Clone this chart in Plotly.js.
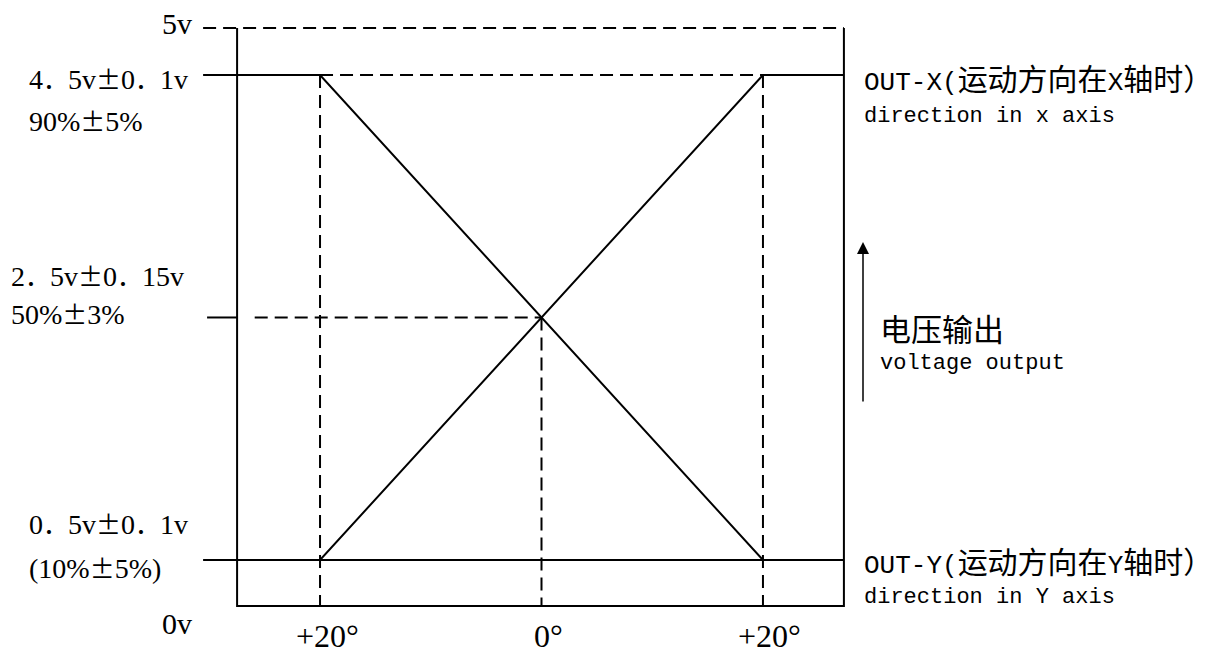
<!DOCTYPE html>
<html>
<head>
<meta charset="utf-8">
<script src="https://cdn.plot.ly/plotly-3.0.1.min.js"></script>
<style>
    html, body { margin: 0; padding: 0; background: #fff; }
    #chart { width: 1232px; height: 655px; }
</style>
</head>
<body>
<div id="chart"></div>
<script>
// 角度 (度) 與電壓準位 (示意圖)
const sweepAngles = [-20, 20];
const outXLevels = [0.5, 4.5];
const outYLevels = [4.5, 0.5];
const centerAngle = 0;
const centerLevel = 2.5;

const angleTicks = [-20, 0, 20];
const angleTickText = ["+20°", "0°", "+20°"];

const levelValues = [4.5, 2.5, 0.5];
const levelVoltText = ["4．5v±0．1v", "2．5v±0．15v", "0．5v±0．1v"];
const levelPctText = ["90%±5%", "50%±3%", "(10%±5%)"];

// 0v / 5v 兩條邊界在圖上的位置 (示意, 非等比例)
const railLevels = [0.121, 4.888];
const railText = ["0v", "5v"];

const seriesNames = ["OUT-X(运动方向在X轴时）", "OUT-Y(运动方向在Y轴时）"];
const seriesSubText = ["direction in x axis", "direction in Y axis"];
const outputText = "电压输出";
const outputSubText = "voltage output";

// 版面 (像素)
const plotL = 199, plotR = 850, plotT = 22, plotB = 612;
const W = 1232, H = 655;
const px = (x) => (x - plotL) / (plotR - plotL);
const py = (y) => (plotB - y) / (plotB - plotT);

// 框線與延伸線的角度位置
const xRange = [-30.93, 27.86];
const yRange = [0.071, 4.937];
const stubStart = -30.56;
const frameLeft = -27.49;
const frameRight = 27.31;
const guideStart = -25.9;
const tickStart = -30.2;

const black = "#000";
const serif = "Liberation Serif, Noto Sans CJK SC, serif";
const mono = "Liberation Mono, Noto Sans CJK SC, monospace";
const cjk = "Noto Sans CJK SC, sans-serif";

// 中文字 / ± 用 CJK 字型 (全形)
const wrapCjk = (s, size) =>
    s.replace(/([\u4e00-\u9fff\uff08-\uff09\uff0e±]+)/g,
        `<span style="font-family:Noto Sans CJK SC;font-size:${size}px">$1</span>`);

const [low, high] = [outXLevels[0], outXLevels[1]];
const [rail0, rail5] = railLevels;

const traces = [
    // OUT-X
    {
        x: [stubStart, sweepAngles[0], sweepAngles[1], frameRight],
        y: [outXLevels[0], outXLevels[0], outXLevels[1], outXLevels[1]],
        mode: "lines",
        line: { color: black, width: 2 },
    },
    // OUT-Y
    {
        x: [stubStart, sweepAngles[0], sweepAngles[1], frameRight],
        y: [outYLevels[0], outYLevels[0], outYLevels[1], outYLevels[1]],
        mode: "lines",
        line: { color: black, width: 2 },
    },
    // 低準位中段 + 框線 + 2.5v 刻度
    {
        x: [sweepAngles[0], sweepAngles[1], null,
            frameLeft, frameLeft, frameRight, frameRight, null,
            tickStart, frameLeft],
        y: [low, low, null,
            rail5, rail0, rail0, rail5, null,
            centerLevel, centerLevel],
        mode: "lines",
        line: { color: black, width: 2 },
    },
    // 虛線輔助線
    {
        x: [sweepAngles[0], sweepAngles[0], null,
            sweepAngles[1], sweepAngles[1], null,
            centerAngle, centerAngle, null,
            guideStart, centerAngle, null,
            sweepAngles[0], sweepAngles[1], null,
            stubStart, frameRight],
        y: [high, rail0, null,
            high, rail0, null,
            centerLevel, rail0, null,
            centerLevel, centerLevel, null,
            high, high, null,
            rail5, rail5],
        mode: "lines",
        line: { color: black, width: 2, dash: "13px,7px" },
    },
];

const annotations = [];

// 左側準位標籤
const levelRows = [
    { left: 27, y1: 78, y2: 120 },
    { left: 9, y1: 275, y2: 313 },
    { left: 27, y1: 523, y2: 567 },
];
levelValues.forEach((v, i) => {
    const r = levelRows[i];
    annotations.push({
        xref: "paper", yref: "paper", x: px(r.left), y: py(r.y1),
        xanchor: "left", yanchor: "middle", showarrow: false,
        text: wrapCjk(levelVoltText[i], 25), font: { family: serif, size: 28, color: black },
    });
    annotations.push({
        xref: "paper", yref: "paper", x: px(r.left), y: py(r.y2),
        xanchor: "left", yanchor: "middle", showarrow: false,
        text: wrapCjk(levelPctText[i], 25), font: { family: serif, size: 28, color: black },
    });
});

// 0v / 5v
[623, 24].forEach((yy, i) => {
    annotations.push({
        xref: "paper", yref: "paper", x: px(194), y: py(yy),
        xanchor: "right", yanchor: "middle", showarrow: false,
        text: railText[i], font: { family: serif, size: 30, color: black },
    });
});

// 角度標籤
angleTicks.forEach((a, i) => {
    annotations.push({
        xref: "x", yref: "paper", x: a, y: py(636), xshift: 7,
        xanchor: "center", yanchor: "middle", showarrow: false,
        text: angleTickText[i], font: { family: serif, size: 32, color: black },
    });
});

// 右側曲線名稱
[[77, 116], [560, 597]].forEach(([y1, y2], i) => {
    annotations.push({
        xref: "paper", yref: "paper", x: px(862), y: py(y1),
        xanchor: "left", yanchor: "middle", showarrow: false,
        text: wrapCjk(seriesNames[i], 30), font: { family: mono, size: 26, color: black },
    });
    annotations.push({
        xref: "paper", yref: "paper", x: px(862), y: py(y2),
        xanchor: "left", yanchor: "middle", showarrow: false,
        text: seriesSubText[i], font: { family: mono, size: 22, color: black },
    });
});

// 電壓輸出
annotations.push({
    xref: "paper", yref: "paper", x: px(878), y: py(327),
    xanchor: "left", yanchor: "middle", showarrow: false,
    text: outputText, font: { family: cjk, size: 31, color: black },
});
annotations.push({
    xref: "paper", yref: "paper", x: px(878), y: py(363),
    xanchor: "left", yanchor: "middle", showarrow: false,
    text: outputSubText, font: { family: mono, size: 22, color: black },
});
annotations.push({
    xref: "paper", yref: "paper", x: px(863), y: py(242),
    ax: 0, ay: 161, axref: "pixel", ayref: "pixel",
    showarrow: true, arrowhead: 2, arrowsize: 1.6, arrowwidth: 1.5,
    arrowcolor: black, standoff: 0, startstandoff: 0, text: "",
});

const layout = {
    width: W,
    height: H,
    margin: { l: plotL, r: W - plotR, t: plotT, b: H - plotB },
    paper_bgcolor: "#fff",
    plot_bgcolor: "#fff",
    showlegend: false,
    xaxis: {
        range: xRange, visible: false, fixedrange: true,
    },
    yaxis: {
        range: yRange, visible: false, fixedrange: true,
    },
    annotations,
};

Plotly.newPlot("chart", traces, layout, { displayModeBar: false, staticPlot: true });
</script>
</body>
</html>
